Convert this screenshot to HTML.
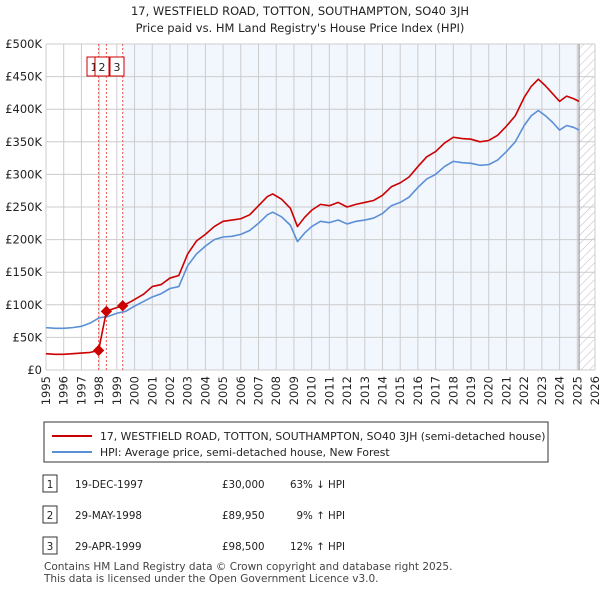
<!DOCTYPE html>
<html><head><meta charset="utf-8"><style>
body{margin:0;background:#fff;font-family:"DejaVu Sans",sans-serif;}
svg text{font-family:"DejaVu Sans",sans-serif;}
</style></head><body>
<svg width="600" height="590" xmlns="http://www.w3.org/2000/svg">
<defs>
<pattern id="hatch" width="6" height="6" patternUnits="userSpaceOnUse" patternTransform="rotate(45)">
<line x1="0" y1="0" x2="0" y2="6" stroke="#bbb" stroke-width="1"/></pattern>
</defs>
<text x="300" y="15" text-anchor="middle" font-size="11.5" fill="#222">17, WESTFIELD ROAD, TOTTON, SOUTHAMPTON, SO40 3JH</text>
<text x="300" y="32" text-anchor="middle" font-size="11.5" fill="#222">Price paid vs. HM Land Registry's House Price Index (HPI)</text>
<g id="plot"></g>
<rect x="44" y="422" width="504" height="40" fill="#fff" stroke="#333"/>
<line x1="52" y1="436" x2="92" y2="436" stroke="#cc0000" stroke-width="2"/>
<text x="100" y="440" font-size="10.8" fill="#222">17, WESTFIELD ROAD, TOTTON, SOUTHAMPTON, SO40 3JH (semi-detached house)</text>
<line x1="52" y1="452" x2="92" y2="452" stroke="#5b8fd6" stroke-width="2"/>
<text x="100" y="456" font-size="10.8" fill="#222">HPI: Average price, semi-detached house, New Forest</text>
<g id="table" font-size="10.3" fill="#222"></g>
<text x="44" y="570" font-size="10.5" fill="#444">Contains HM Land Registry data © Crown copyright and database right 2025.</text>
<text x="44" y="582" font-size="10.5" fill="#444">This data is licensed under the Open Government Licence v3.0.</text>
</svg>
<script>
const hpiYears=[1995,1995.5,1996,1996.5,1997,1997.5,1998,1998.5,1999,1999.5,2000,2000.5,2001,2001.5,2002,2002.5,2003,2003.5,2004,2004.5,2005,2005.5,2006,2006.5,2007,2007.5,2007.8,2008.3,2008.8,2009.2,2009.6,2010,2010.5,2011,2011.5,2012,2012.5,2013,2013.5,2014,2014.5,2015,2015.5,2016,2016.5,2017,2017.5,2018,2018.5,2019,2019.5,2020,2020.5,2021,2021.5,2022,2022.4,2022.8,2023.2,2023.6,2024,2024.4,2024.8,2025.1];
const hpiValues=[65,64,64,65,67,72,80,82,87,90,98,105,112,117,125,128,160,178,190,200,204,205,208,214,225,238,242,235,222,197,210,220,228,226,230,224,228,230,233,240,252,257,265,280,293,300,312,320,318,317,314,315,322,335,350,375,390,398,390,380,368,375,372,368];
const priceYears=[1995,1995.5,1996,1996.5,1997,1997.5,1997.97,1998.41,1998.8,1999.33,1999.8,2000.5,2001,2001.5,2002,2002.5,2003,2003.5,2004,2004.5,2005,2005.5,2006,2006.5,2007,2007.5,2007.8,2008.3,2008.8,2009.2,2009.6,2010,2010.5,2011,2011.5,2012,2012.5,2013,2013.5,2014,2014.5,2015,2015.5,2016,2016.5,2017,2017.5,2018,2018.5,2019,2019.5,2020,2020.5,2021,2021.5,2022,2022.4,2022.8,2023.2,2023.6,2024,2024.4,2024.8,2025.1];
const priceValues=[25,24,24,25,26,27,30,89.95,94,98.5,105,116,128,131,141,145,178,198,208,220,228,230,232,238,252,266,270,262,248,220,234,245,254,252,257,250,254,257,260,268,281,287,296,312,327,335,348,357,355,354,350,352,360,374,390,418,435,446,436,424,412,420,416,412];
const sales=[[1997.97,30],[1998.41,89.95],[1999.33,98.5]];
const yTicks=[0,50,100,150,200,250,300,350,400,450,500];
const yTickLabels=["£0","£50K","£100K","£150K","£200K","£250K","£300K","£350K","£400K","£450K","£500K"];
const xTicks=[1995,1996,1997,1998,1999,2000,2001,2002,2003,2004,2005,2006,2007,2008,2009,2010,2011,2012,2013,2014,2015,2016,2017,2018,2019,2020,2021,2022,2023,2024,2025,2026];
const tableDates=["19-DEC-1997","29-MAY-1998","29-APR-1999"];
const tablePrices=["£30,000","£89,950","£98,500"];
const tableHpi=["63% ↓ HPI","9% ↑ HPI","12% ↑ HPI"];
const X0=46,X1=595,Y0=370,Y1=44;
const xs=y=>X0+(y-1995)/(2026-1995)*(X1-X0);
const ys=v=>Y0-v/500*(Y0-Y1);
const NS="http://www.w3.org/2000/svg";
const g=document.getElementById('plot');
function mk(t,a,p){const e=document.createElementNS(NS,t);for(const k in a)e.setAttribute(k,a[k]);(p||g).appendChild(e);return e;}
let r=mk('rect',{x:X0,y:Y1,width:X1-X0,height:Y0-Y1,fill:'#fff'});


r=mk('rect',{x:xs(1999.33),y:Y1,width:xs(2025.1)-xs(1999.33),height:Y0-Y1,fill:'#f2f6fd'});


r=mk('rect',{x:xs(2025.1),y:Y1,width:X1-xs(2025.1),height:Y0-Y1,fill:'url(#hatch)'});


xTicks.forEach(t=>{const l=mk('line',{x1:xs(t),x2:xs(t),y1:Y1,y2:Y0,stroke:'#ccc'});


const tx=mk('text',{x:0,y:0,'font-size':11.5,fill:'#222','text-anchor':'end',transform:`translate(${xs(t)+4},${Y0+6}) rotate(-90)`});tx.textContent=t;

});
yTicks.forEach((t,i)=>{const l=mk('line',{x1:X0,x2:X1,y1:ys(t),y2:ys(t),stroke:'#ccc'});


const tx=mk('text',{x:X0-4,y:ys(t)+4,'font-size':11.5,fill:'#222','text-anchor':'end'});tx.textContent=yTickLabels[i];

});
let l=mk('line',{x1:xs(2025.1),x2:xs(2025.1),y1:Y1,y2:Y0,stroke:'#888'});


sales.forEach((s,i)=>{const v=mk('line',{x1:xs(s[0]),x2:xs(s[0]),y1:Y1,y2:Y0,stroke:'#e55','stroke-dasharray':'2,2'});

});
const bx=[[87,'1'],[95,'2'],[110,'3']];
bx.forEach(b=>{const r=mk('rect',{x:b[0],y:57,width:14,height:19,fill:'#fff',stroke:'#cc0000'});


const t=mk('text',{x:b[0]+7,y:71,'font-size':11,fill:'#222','text-anchor':'middle'});t.textContent=b[1];

});
const pl=(xa,va,c,n)=>{const p=mk('polyline',{points:xa.map((x,i)=>xs(x)+','+ys(va[i])).join(' '),fill:'none',stroke:c,'stroke-width':1.6,'stroke-linejoin':'round'});

};
pl(hpiYears,hpiValues,'#5b8fd6','hpi-line');
pl(priceYears,priceValues,'#cc0000','price-line');
sales.forEach(s=>{const d=mk('rect',{x:xs(s[0])-4,y:ys(s[1])-4,width:8,height:8,fill:'#cc0000',transform:`rotate(45 ${xs(s[0])} ${ys(s[1])})`});

});
const tb=document.getElementById('table');
[484,515,546].forEach((y,i)=>{const r=mk('rect',{x:43,y:y-9,width:14,height:17,fill:'#fff',stroke:'#333'},tb);


const cells=[[50,String(i+1),'middle'],[75,tableDates[i],'start'],[222,tablePrices[i],'start'],[345,tableHpi[i],'end']];
cells.forEach(c=>{const t=mk('text',{x:c[0],y:y+4,'text-anchor':c[2]},tb);t.textContent=c[1];

});});
</script>
</body></html>
